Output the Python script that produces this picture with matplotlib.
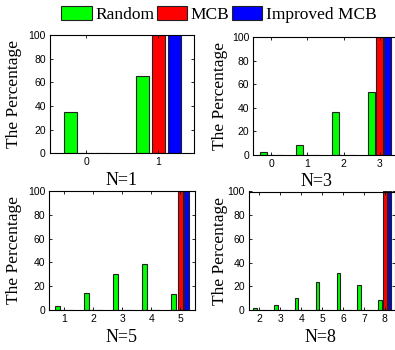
import numpy as np
import matplotlib
matplotlib.use("Agg")
import matplotlib.pyplot as plt
from matplotlib.patches import Patch

# percentage of trials per category, for each N
cats_n1 = [0, 1]
random_n1 = [35, 65]
mcb_n1 = [0, 100]
imp_n1 = [0, 100]

cats_n3 = [0, 1, 2, 3]
random_n3 = [2.3, 8.5, 36.2, 53]
mcb_n3 = [0, 0, 0, 100]
imp_n3 = [0, 0, 0, 100]

cats_n5 = [1, 2, 3, 4, 5]
random_n5 = [3.5, 14, 30, 39, 13.5]
mcb_n5 = [0, 0, 0, 0, 100]
imp_n5 = [0, 0, 0, 0, 100]

cats_n8 = [2, 3, 4, 5, 6, 7, 8]
random_n8 = [1.5, 4, 10, 24, 31, 21.5, 8.5]
mcb_n8 = [0, 0, 0, 0, 0, 0, 100]
imp_n8 = [0, 0, 0, 0, 0, 0, 100]

series_names = ["Random", "MCB", "Improved MCB"]
colors = ["#00ff00", "#ff0000", "#0000ff"]

plt.rcParams["font.family"] = ["Liberation Serif", "DejaVu Serif"]

W, H = 395, 350
fig = plt.figure(figsize=(W / 100, H / 100), dpi=100)


def px_axes(left, top, right, bottom):
    return fig.add_axes([left / W, 1 - bottom / H, (right - left) / W, (bottom - top) / H])


def draw_panel(ax, cats, groups, title, ylab_x, title_x):
    x = np.array(cats, dtype=float)
    offs = [-0.222, 0.0, 0.222]
    for vals, c, o in zip(groups, colors, offs):
        ax.bar(x + o, vals, width=0.18, color=c, edgecolor="#222222", linewidth=0.8)
    ax.set_xlim(x[0] - 0.5, x[-1] + 0.5)
    ax.set_ylim(0, 100)
    ax.set_xticks(cats)
    ax.set_yticks([0, 20, 40, 60, 80, 100])
    ax.tick_params(direction="in", length=2.5, width=0.6, top=True, right=True,
                   labelsize=7.5, pad=3)
    for lab in ax.get_xticklabels() + ax.get_yticklabels():
        lab.set_family(["Liberation Sans", "DejaVu Sans"])
    for s in ax.spines.values():
        s.set_linewidth(0.8)
    pos = ax.get_position()
    fig.text(ylab_x / W, pos.y0 + pos.height / 2, "The Percentage", rotation=90,
             ha="center", va="center", fontsize=12.5)
    fig.text(title_x / W, pos.y0 - 27 / H, title, ha="center", va="center", fontsize=13)


ax1 = px_axes(50, 35, 194.3, 153.3)
draw_panel(ax1, cats_n1, [random_n1, mcb_n1, imp_n1], "N=1", 14, 122)

ax2 = px_axes(253.3, 37, 397.7, 155)
draw_panel(ax2, cats_n3, [random_n3, mcb_n3, imp_n3], "N=3", 220, 317)

ax3 = px_axes(49.3, 191, 194.8, 310)
draw_panel(ax3, cats_n5, [random_n5, mcb_n5, imp_n5], "N=5", 14, 122)

ax4 = px_axes(249, 191.5, 395.3, 310)
draw_panel(ax4, cats_n8, [random_n8, mcb_n8, imp_n8], "N=8", 220, 320)

handles = [Patch(facecolor=c, edgecolor="#222222", linewidth=0.8) for c in colors]
fig.legend(handles, series_names, loc="center", bbox_to_anchor=(219 / W, 1 - 14.5 / H),
           ncol=3, frameon=False, fontsize=12.5, handlelength=1.75, handleheight=0.85,
           handletextpad=0.2, columnspacing=0.15, borderpad=0)

fig.savefig("out.png", dpi=100)
